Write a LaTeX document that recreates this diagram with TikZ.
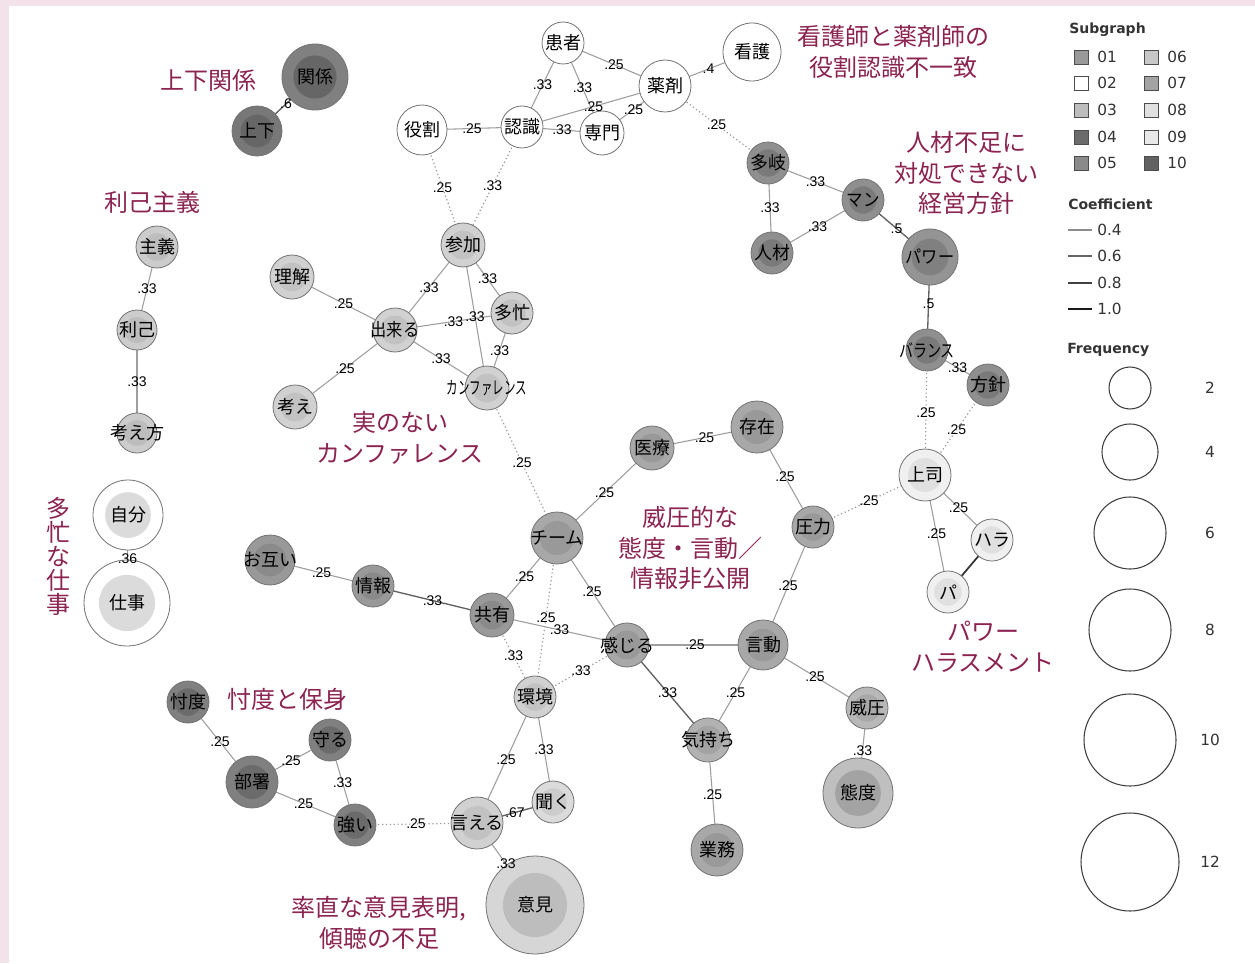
\documentclass[tikz,border=0pt]{standalone}
\usepackage{fontspec}
\usepackage{graphicx}
\setmainfont{DejaVu Sans}
\newfontfamily\jp{Noto Sans CJK JP}
\newfontfamily\lab{Liberation Sans}
\definecolor{ann}{RGB}{140,36,82}
\definecolor{pinkbg}{RGB}{243,226,233}
\pgfdeclarelayer{back}
\pgfdeclarelayer{bg}
\pgfsetlayers{back,bg,main}
\newcommand\E[4][ed]{\begin{pgfonlayer}{bg}\draw[#1] (#2.center) -- (#3.center);\end{pgfonlayer}\path (#2.center) -- node[lb]{#4} (#3.center);}
\begin{document}
\begin{tikzpicture}[x=0.75pt,y=-0.75pt,
  sg/.style n args={3}{circle, inner sep=0pt, minimum size=#1*1.5pt,
     draw=black!55, line width=0.6pt, fill=#2,
     font=\jp\fontsize{13.5}{13.5}\selectfont,
     execute at begin node={\hbox to 0pt\bgroup\hss},
     execute at end node={\hss\egroup},
     path picture={\fill[#3] (path picture bounding box.center) circle[radius=#1*0.49pt];}},
  ed/.style={draw=black!38, line width=0.8pt},
  eds/.style={draw=black!62, line width=1pt},
  edx/.style={draw=black!80, line width=1.3pt},
  edd/.style={draw=black!40, line width=0.9pt, dotted},
  lb/.style={font=\lab\fontsize{10.5}{10.5}\selectfont, inner sep=0.5pt, midway},
  annot/.style={text=ann, font=\jp\fontsize{18}{23}\selectfont, align=center, inner sep=0pt},
  lg/.style={font=\fontsize{11.5}{12}\selectfont, anchor=west, inner sep=0pt, text=black!80},
  lgt/.style={font=\bfseries\fontsize{10.5}{12}\selectfont, anchor=west, inner sep=0pt, text=black!80},
  sq/.style={draw=black!70, line width=0.6pt}
]
\useasboundingbox (0,0) rectangle (1255,963);
\begin{pgfonlayer}{back}
\fill[pinkbg] (0,0) rectangle (1255,963);
\fill[white] (9,6) rectangle (1255,963);
\end{pgfonlayer}

% ---------- nodes ----------
% group 10
\node[sg={33}{black!50}{black!60}] (kankei) at (315,77) {関係};
\node[sg={25}{black!53}{black!60}] (jouge) at (257,131) {上下};
% group 02 (white)
\node[sg={25}{white}{white}] (yakuwari) at (422,130) {役割};
\node[sg={21}{white}{white}] (ninshiki) at (522,127) {認識};
\node[sg={21}{white}{white}] (kanja) at (563,43) {患者};
\node[sg={26}{white}{white}] (yakuzai) at (665,86) {薬剤};
\node[sg={29}{white}{white}] (kango) at (752,52) {看護};
\node[sg={22}{white}{white}] (senmon) at (602,133) {専門};
% 利己
\node[sg={21}{black!20}{black!26}] (shugi) at (157,247) {主義};
\node[sg={20}{black!20}{black!26}] (riko) at (137,330) {利己};
\node[sg={20}{black!20}{black!26}] (kangaekata) at (137,433) {考え方};
% 多忙
\node[sg={35}{white}{black!14}] (jibun) at (128,515) {自分};
\node[sg={43}{white}{black!14}] (shigoto) at (127,603) {仕事};
% conference
\node[sg={22}{black!18}{black!24}] (rikai) at (292,277) {理解};
\node[sg={22}{black!18}{black!24}] (dekiru) at (395,330) {\scalebox{0.9}[1]{出来る}};
\node[sg={22}{black!18}{black!24}] (kangae) at (295,407) {考え};
\node[sg={22}{black!18}{black!24}] (sanka) at (463,245) {参加};
\node[sg={21}{black!18}{black!24}] (tabou) at (512,313) {多忙};
\node[sg={22}{black!18}{black!24}] (conf) at (487,388) {\scalebox{0.64}[1]{カンファレンス}};
% management
\node[sg={21}{black!44}{black!52}] (taki) at (768,163) {多岐};
\node[sg={21}{black!44}{black!52}] (jinzai) at (772,253) {人材};
\node[sg={21}{black!44}{black!52}] (man) at (863,200) {\scalebox{0.92}[1]{マン}};
\node[sg={28}{black!42}{black!50}] (power) at (930,257) {\scalebox{0.9}[1]{パワー}};
\node[sg={21}{black!44}{black!52}] (balance) at (927,350) {\scalebox{0.78}[1]{バランス}};
\node[sg={21}{black!44}{black!52}] (houshin) at (988,385) {方針};
% harassment
\node[sg={26}{black!6}{black!12}] (joushi) at (925,475) {上司};
\node[sg={21}{black!6}{black!12}] (hara) at (992,540) {ハラ};
\node[sg={21}{black!6}{black!12}] (pa) at (948,592) {パ};
% team
\node[sg={21}{black!34}{black!40}] (atsuryoku) at (813,527) {圧力};
\node[sg={26}{black!34}{black!40}] (sonzai) at (757,427) {存在};
\node[sg={22}{black!34}{black!40}] (iryou) at (652,448) {医療};
\node[sg={26}{black!34}{black!40}] (team) at (557,538) {チーム};
\node[sg={22}{black!40}{black!46}] (kyouyuu) at (492,615) {共有};
\node[sg={21}{black!40}{black!46}] (jouhou) at (373,586) {情報};
\node[sg={25}{black!40}{black!46}] (otagai) at (270,560) {お互い};
\node[sg={22}{black!34}{black!40}] (kanjiru) at (627,645) {感じる};
\node[sg={25}{black!34}{black!40}] (gendou) at (763,645) {言動};
\node[sg={22}{black!30}{black!36}] (kimochi) at (708,740) {気持ち};
\node[sg={26}{black!34}{black!40}] (gyoumu) at (717,850) {業務};
\node[sg={21}{black!28}{black!34}] (iatsu) at (867,708) {威圧};
\node[sg={35}{black!25}{black!36}] (taido) at (858,793) {態度};
% environment
\node[sg={21}{black!18}{black!24}] (kankyou) at (535,697) {環境};
\node[sg={21}{black!14}{black!20}] (kiku) at (553,802) {聞く};
\node[sg={26}{black!18}{black!24}] (ieru) at (477,823) {言える};
\node[sg={49}{black!16}{black!26}] (iken) at (535,905) {意見};
% sontaku
\node[sg={21}{black!50}{black!58}] (sontaku) at (188,702) {忖度};
\node[sg={21}{black!50}{black!58}] (mamoru) at (330,740) {守る};
\node[sg={26}{black!50}{black!58}] (busho) at (252,782) {部署};
\node[sg={21}{black!50}{black!58}] (tsuyoi) at (355,825) {強い};

% ---------- edges ----------
\E[eds]{kankei}{jouge}{.6}
\E{yakuwari}{ninshiki}{.25}
\E{ninshiki}{kanja}{.33}
\E{kanja}{senmon}{.33}
\E{kanja}{yakuzai}{.25}
\E{ninshiki}{yakuzai}{.25}
\E{senmon}{yakuzai}{.25}
\E{ninshiki}{senmon}{.33}
\E{yakuzai}{kango}{.4}
\E[edd]{yakuzai}{taki}{.25}
\E[edd]{ninshiki}{sanka}{.33}
\E[edd]{yakuwari}{sanka}{.25}
\E{shugi}{riko}{.33}
\E{riko}{kangaekata}{.33}
\E{jibun}{shigoto}{.36}
\E{rikai}{dekiru}{.25}
\E{kangae}{dekiru}{.25}
\E{dekiru}{sanka}{.33}
\E{dekiru}{tabou}{.33}
\E{dekiru}{conf}{.33}
\E{sanka}{tabou}{.33}
\E{sanka}{conf}{.33}
\E{tabou}{conf}{.33}
\E[edd]{conf}{team}{.25}
\E{taki}{man}{.33}
\E{taki}{jinzai}{.33}
\E{jinzai}{man}{.33}
\E[eds]{man}{power}{.5}
\E[eds]{power}{balance}{.5}
\E{balance}{houshin}{.33}
\E[edd]{balance}{joushi}{.25}
\E[edd]{houshin}{joushi}{.25}
\E{joushi}{hara}{.25}
\E{joushi}{pa}{.25}
\begin{pgfonlayer}{bg}\draw[edx] (hara.center) -- (pa.center);\end{pgfonlayer}
\E[edd]{atsuryoku}{joushi}{.25}
\E{sonzai}{atsuryoku}{.25}
\E{atsuryoku}{gendou}{.25}
\E{iryou}{sonzai}{.25}
\E{team}{iryou}{.25}
\E{team}{kyouyuu}{.25}
\E{team}{kanjiru}{.25}
\E[edd]{team}{kankyou}{.25}
\E{otagai}{jouhou}{.25}
\E[eds]{jouhou}{kyouyuu}{.33}
\E{kyouyuu}{kanjiru}{.33}
\E[edd]{kyouyuu}{kankyou}{.33}
\E{kanjiru}{gendou}{.25}
\E[edd]{kanjiru}{kankyou}{.33}
\E[eds]{kanjiru}{kimochi}{.33}
\E{gendou}{kimochi}{.25}
\E{gendou}{iatsu}{.25}
\E{kimochi}{gyoumu}{.25}
\E{iatsu}{taido}{.33}
\E{kankyou}{ieru}{.25}
\E{kankyou}{kiku}{.33}
\E[eds]{ieru}{kiku}{.67}
\E{ieru}{iken}{.33}
\E[edd]{tsuyoi}{ieru}{.25}
\E{sontaku}{busho}{.25}
\E{busho}{mamoru}{.25}
\E{busho}{tsuyoi}{.25}
\E{mamoru}{tsuyoi}{.33}

% ---------- annotations ----------
\node[annot] (a1) at (208,80) {上下関係};
\node[annot] (a2) at (152,202) {利己主義};
\node[annot] (a3) at (893,52) {看護師と薬剤師の\\役割認識不一致};
\node[annot] (a4) at (966,173) {人材不足に\\対処できない\\経営方針};
\node[annot] (a5) at (400,438) {実のない\\カンファレンス};
\node[annot, font=\jp\fontsize{18}{18}\selectfont] (a6) at (58,556) {多\\忙\\な\\仕\\事};
\node[annot] (a7) at (690,548) {威圧的な\\態度・言動／\\情報非公開};
\node[annot] (a8) at (983,647) {パワー\\ハラスメント};
\node[annot] (a9) at (287,699) {忖度と保身};
\node[annot] (a10) at (379,923) {率直な意見表明,\\傾聴の不足};

% ---------- legend ----------
\node[lgt] (lsub) at (1069,30) {Subgraph};
\foreach \y/\a/\ca/\b/\cb in {57/01/black!40/06/black!22, 83/02/white/07/black!36, 110/03/black!26/08/black!12, 137/04/black!58/09/black!9, 163/05/black!46/10/black!62}{
  \filldraw[sq, fill=\ca] (1074,\y-7) rectangle (1088,\y+7);
  \node[lg] at (1097,\y) {\a};
  \filldraw[sq, fill=\cb] (1144,\y-7) rectangle (1158,\y+7);
  \node[lg] at (1167,\y) {\b};
}
\node[lgt] (lcoef) at (1068,204) {Coefficient};
\foreach \y/\t/\c in {230/0.4/black!45, 256/0.6/black!60, 283/0.8/black!75, 309/1.0/black!90}{
  \draw[\c, line width=0.8pt] (1068,\y) -- (1092,\y);
  \node[lg] at (1097,\y) {\t};
}
\node[lgt] (lfreq) at (1067,350) {Frequency};
\foreach \y/\r/\t in {388/21/2, 452/28/4, 533/36/6, 630/41/8, 740/46/10, 862/49/12}{
  \draw[black!75, line width=0.8pt] (1130,\y) circle[radius=\r*0.75pt];
  \node[lg, anchor=center] at (1210,\y) {\t};
}
\end{tikzpicture}
\end{document}
